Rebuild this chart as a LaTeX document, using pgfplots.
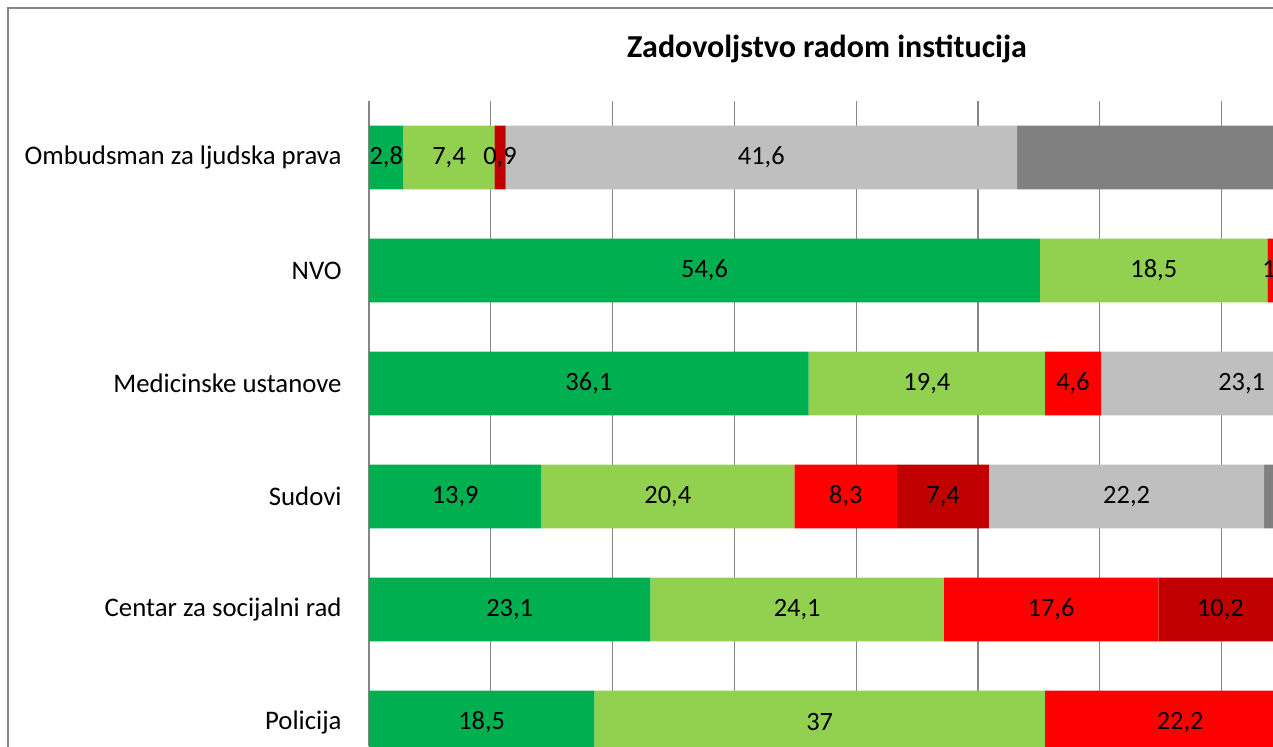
\documentclass[border=0pt]{standalone}
\usepackage{pgfplots}
\pgfplotsset{compat=1.18}
\usepackage{pgfplotstable}
\usepackage{fontspec}
\setmainfont{Carlito}
\definecolor{dgreen}{HTML}{00B050}
\definecolor{lgreen}{HTML}{92D050}
\definecolor{cred}{HTML}{FF0000}
\definecolor{dred}{HTML}{C00000}
\definecolor{lgrey}{HTML}{BFBFBF}
\definecolor{dgrey}{HTML}{808080}
\definecolor{gridc}{HTML}{868686}
% shares (in % of the whole bar), category index 0 = top
\pgfplotstableread{
x y
2.83 0
55.09 1
36.1 2
14.15 3
23.1 4
18.5 5
}\tDG
\pgfplotstableread{
x y
7.47 0
18.67 1
19.4 2
20.77 3
24.1 4
37 5
}\tLG
\pgfplotstableread{
x y
0 0
1.92 1
4.6 2
8.45 3
17.6 4
22.2 5
}\tR
\pgfplotstableread{
x y
0.91 0
0 1
0 2
7.53 3
10.2 4
0 5
}\tDR
\pgfplotstableread{
x y
42.0 0
0 1
23.1 2
22.6 3
0 4
0 5
}\tLGr
\pgfplotstableread{
x y
46.79 0
0 1
0 2
26.5 3
0 4
0 5
}\tDGr
% value labels at the middle of each segment
\pgfplotstableread{
x y lab
1.415 0 2,8
6.565 0 7,4
10.755 0 0,9
32.21 0 41,6
27.55 1 54,6
64.43 1 18,5
74.72 1 1,9
18.05 2 36,1
45.8 2 19,4
57.8 2 4,6
71.65 2 23,1
7.075 3 13,9
24.535 3 20,4
39.145 3 8,3
47.135 3 7,4
62.2 3 22,2
11.55 4 23,1
35.15 4 24,1
56.0 4 17,6
69.9 4 10,2
9.25 5 18,5
37.0 5 37
66.6 5 22,2
}\tLab
\begin{document}
\begin{tikzpicture}
\useasboundingbox (0,0) rectangle (636.5pt,373pt);
\clip (0,0) rectangle (636.5pt,373pt);
\draw[gridc, line width=0.6pt] (4pt,-10pt) -- (4pt,369pt) -- (660pt,369pt);
\begin{axis}[
  at={(184.5pt,0pt)}, anchor=south west,
  scale only axis, width=452pt, height=322.5pt,
  xmin=0, xmax=74.22, ymin=-0.5, ymax=5.208, y dir=reverse,
  xbar stacked, bar width=0.566,
  xtick={0,10,...,70}, xticklabels={}, xmajorgrids,
  major grid style={gridc, line width=0.6pt},
  ytick={0,1,2,3,4,5},
  yticklabels={Ombudsman za ljudska prava, NVO, Medicinske ustanove, Sudovi, Centar za socijalni rad, Policija},
  yticklabel style={anchor=east, inner sep=0pt, xshift=-13.5pt, font=\fontsize{13.4}{15}\selectfont},
  axis line style={draw=none}, tick style={draw=none},
  title={\textbf{Zadovoljstvo radom institucija}},
  title style={at={(0.5066,1)}, anchor=base, yshift=15.6pt, inner sep=0pt, font=\fontsize{16}{19}\selectfont},
]
\addplot[fill=dgreen, draw=none] table[x=x, y=y] {\tDG};
\addplot[fill=lgreen, draw=none] table[x=x, y=y] {\tLG};
\addplot[fill=cred, draw=none] table[x=x, y=y] {\tR};
\addplot[fill=dred, draw=none] table[x=x, y=y] {\tDR};
\addplot[fill=lgrey, draw=none] table[x=x, y=y] {\tLGr};
\addplot[fill=dgrey, draw=none] table[x=x, y=y] {\tDGr};
\end{axis}
\begin{axis}[
  at={(184.5pt,0pt)}, anchor=south west,
  scale only axis, width=452pt, height=322.5pt,
  xmin=0, xmax=74.22, ymin=-0.5, ymax=5.208, y dir=reverse,
  hide axis, clip=false,
]
\addplot[only marks, mark=none, nodes near coords, point meta=explicit symbolic,
  every node near coord/.append style={anchor=center, text=black, inner sep=0pt, font=\fontsize{13.2}{15}\selectfont}]
  table[x=x, y=y, meta=lab] {\tLab};
\end{axis}
\end{tikzpicture}
\end{document}
